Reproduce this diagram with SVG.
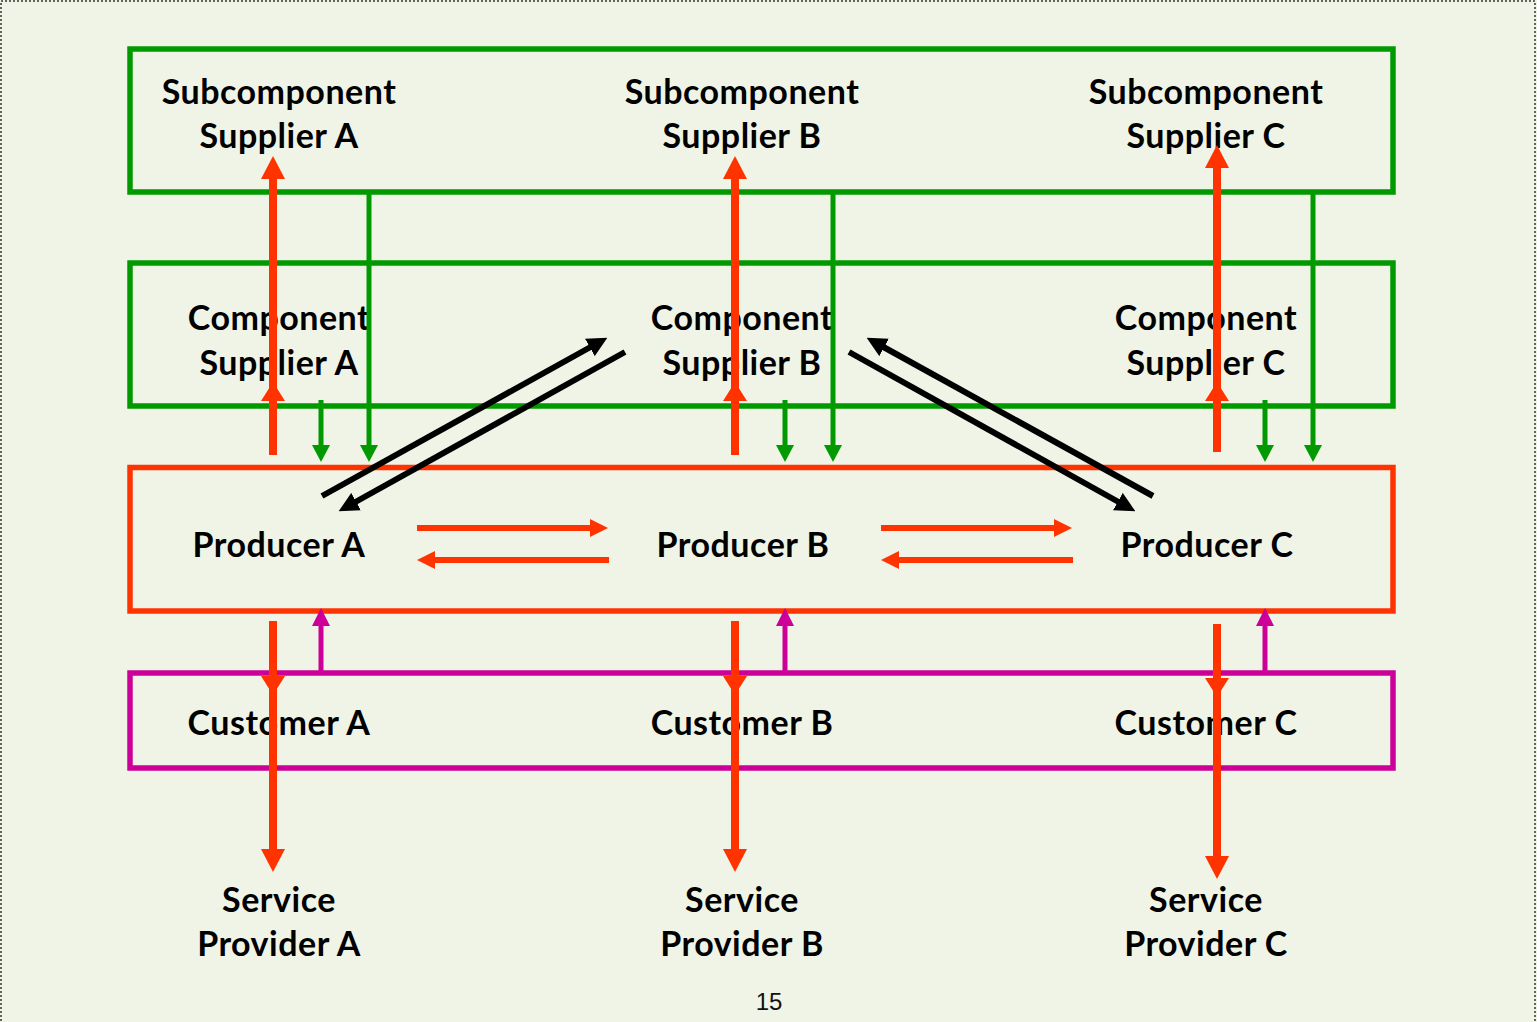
<svg xmlns="http://www.w3.org/2000/svg" width="1537" height="1022" viewBox="0 0 1537 1022">
<style>
.lbl{font-family:Lato,"Open Sans","Liberation Sans",sans-serif;font-weight:bold;font-size:34px;letter-spacing:0.5px;fill:#000;text-anchor:middle}
.box{fill:none;stroke-width:5.5}
.g{stroke:#009900}
.r{stroke:#FF3300}
.m{stroke:#CC0099}
.red{fill:none;stroke:#FF3300;stroke-width:8}
.redh{fill:none;stroke:#FF3300;stroke-width:6}
.grn{fill:none;stroke:#009900;stroke-width:5}
.mag{fill:none;stroke:#CC0099;stroke-width:5}
.blk{fill:none;stroke:#000;stroke-width:6}
</style>
<defs>
<marker id="redEnd" markerUnits="userSpaceOnUse" viewBox="0 0 23 24" markerWidth="23" markerHeight="24" refX="9" refY="12" orient="auto"><path d="M0,0L23,12L0,24z" fill="#FF3300"/></marker>
<marker id="redMid" markerUnits="userSpaceOnUse" viewBox="0 0 19 24" markerWidth="19" markerHeight="24" refX="19" refY="12" orient="auto"><path d="M0,0L19,12L0,24z" fill="#FF3300"/></marker>
<marker id="redH" markerUnits="userSpaceOnUse" viewBox="0 0 18 18" markerWidth="18" markerHeight="18" refX="6" refY="9" orient="auto"><path d="M0,0L18,9L0,18z" fill="#FF3300"/></marker>
<marker id="grnEnd" markerUnits="userSpaceOnUse" viewBox="0 0 17 18" markerWidth="17" markerHeight="18" refX="6" refY="9" orient="auto"><path d="M0,0L17,9L0,18z" fill="#009900"/></marker>
<marker id="magEnd" markerUnits="userSpaceOnUse" viewBox="0 0 18 18" markerWidth="18" markerHeight="18" refX="6" refY="9" orient="auto"><path d="M0,0L18,9L0,18z" fill="#CC0099"/></marker>
<marker id="blkEnd" markerUnits="userSpaceOnUse" viewBox="0 0 20 20" markerWidth="20" markerHeight="20" refX="7" refY="10" orient="auto"><path d="M0,0L20,10L0,20z" fill="#000"/></marker>
</defs>
<rect x="0" y="0" width="1537" height="1022" fill="#F0F4E7"/>
<rect x="1" y="1" width="1534" height="1030" fill="none" stroke="#333" stroke-width="1.5" stroke-dasharray="2,2"/>

<g id="subcomponent-suppliers">
<rect class="box g" x="130" y="49" width="1263" height="143"/>
</g>
<g id="subcomponent-supplier-a"><text class="lbl" x="279" y="104">Subcomponent</text><text class="lbl" x="279" y="148">Supplier A</text></g>
<g id="subcomponent-supplier-b"><text class="lbl" x="742" y="104">Subcomponent</text><text class="lbl" x="742" y="148">Supplier B</text></g>
<g id="subcomponent-supplier-c"><text class="lbl" x="1206" y="104">Subcomponent</text><text class="lbl" x="1206" y="148">Supplier C</text></g>

<g id="component-suppliers">
<rect class="box g" x="130" y="263" width="1263" height="143"/>
</g>
<g id="component-supplier-a"><text class="lbl" x="279" y="330">Component</text><text class="lbl" x="279" y="375">Supplier A</text></g>
<g id="component-supplier-b"><text class="lbl" x="742" y="330">Component</text><text class="lbl" x="742" y="375">Supplier B</text></g>
<g id="component-supplier-c"><text class="lbl" x="1206" y="330">Component</text><text class="lbl" x="1206" y="375">Supplier C</text></g>

<g id="producers">
<rect class="box r" x="130" y="467.5" width="1263" height="143.5"/>
</g>
<g id="producer-a"><text class="lbl" x="279" y="557">Producer A</text></g>
<g id="producer-b"><text class="lbl" x="743" y="557">Producer B</text></g>
<g id="producer-c"><text class="lbl" x="1207" y="557">Producer C</text></g>

<g id="customers">
<rect class="box m" x="130" y="673" width="1263" height="95"/>
</g>
<g id="customer-a"><text class="lbl" x="279" y="735">Customer A</text></g>
<g id="customer-b"><text class="lbl" x="742" y="735">Customer B</text></g>
<g id="customer-c"><text class="lbl" x="1206" y="735">Customer C</text></g>

<g id="service-provider-a"><text class="lbl" x="279" y="912">Service</text><text class="lbl" x="279" y="956">Provider A</text></g>
<g id="service-provider-b"><text class="lbl" x="742" y="912">Service</text><text class="lbl" x="742" y="956">Provider B</text></g>
<g id="service-provider-c"><text class="lbl" x="1206" y="912">Service</text><text class="lbl" x="1206" y="956">Provider C</text></g>

<g id="connectors">
<polyline class="red" points="273,455 273,382 273,170" marker-mid="url(#redMid)" marker-end="url(#redEnd)"/>
<polyline class="red" points="735,455 735,382 735,170" marker-mid="url(#redMid)" marker-end="url(#redEnd)"/>
<polyline class="red" points="1217,452 1217,382 1217,159" marker-mid="url(#redMid)" marker-end="url(#redEnd)"/>
<line class="grn" x1="321" y1="400" x2="321" y2="451" marker-end="url(#grnEnd)"/>
<line class="grn" x1="369" y1="192" x2="369" y2="451" marker-end="url(#grnEnd)"/>
<line class="grn" x1="785" y1="400" x2="785" y2="451" marker-end="url(#grnEnd)"/>
<line class="grn" x1="833" y1="192" x2="833" y2="451" marker-end="url(#grnEnd)"/>
<line class="grn" x1="1265" y1="400" x2="1265" y2="451" marker-end="url(#grnEnd)"/>
<line class="grn" x1="1313" y1="192" x2="1313" y2="451" marker-end="url(#grnEnd)"/>
<polyline class="red" points="273,621 273,695 273,858" marker-mid="url(#redMid)" marker-end="url(#redEnd)"/>
<polyline class="red" points="735,621 735,695 735,858" marker-mid="url(#redMid)" marker-end="url(#redEnd)"/>
<polyline class="red" points="1217,624 1217,697 1217,865" marker-mid="url(#redMid)" marker-end="url(#redEnd)"/>
<line class="mag" x1="321" y1="673" x2="321" y2="620" marker-end="url(#magEnd)"/>
<line class="mag" x1="785" y1="673" x2="785" y2="620" marker-end="url(#magEnd)"/>
<line class="mag" x1="1265" y1="673" x2="1265" y2="620" marker-end="url(#magEnd)"/>
<line class="redh" x1="417" y1="528" x2="596" y2="528" marker-end="url(#redH)"/>
<line class="redh" x1="609" y1="560" x2="429" y2="560" marker-end="url(#redH)"/>
<line class="redh" x1="881" y1="528" x2="1060" y2="528" marker-end="url(#redH)"/>
<line class="redh" x1="1073" y1="560" x2="893" y2="560" marker-end="url(#redH)"/>
<line class="blk" x1="322" y1="496" x2="596" y2="344" marker-end="url(#blkEnd)"/>
<line class="blk" x1="625" y1="352" x2="350" y2="505" marker-end="url(#blkEnd)"/>
<line class="blk" x1="849" y1="352" x2="1124" y2="505" marker-end="url(#blkEnd)"/>
<line class="blk" x1="1153" y1="496" x2="878" y2="344" marker-end="url(#blkEnd)"/>
</g>

<text x="769" y="1010" font-family="Liberation Sans, Arial, sans-serif" font-size="24" text-anchor="middle" fill="#111">15</text>
</svg>
